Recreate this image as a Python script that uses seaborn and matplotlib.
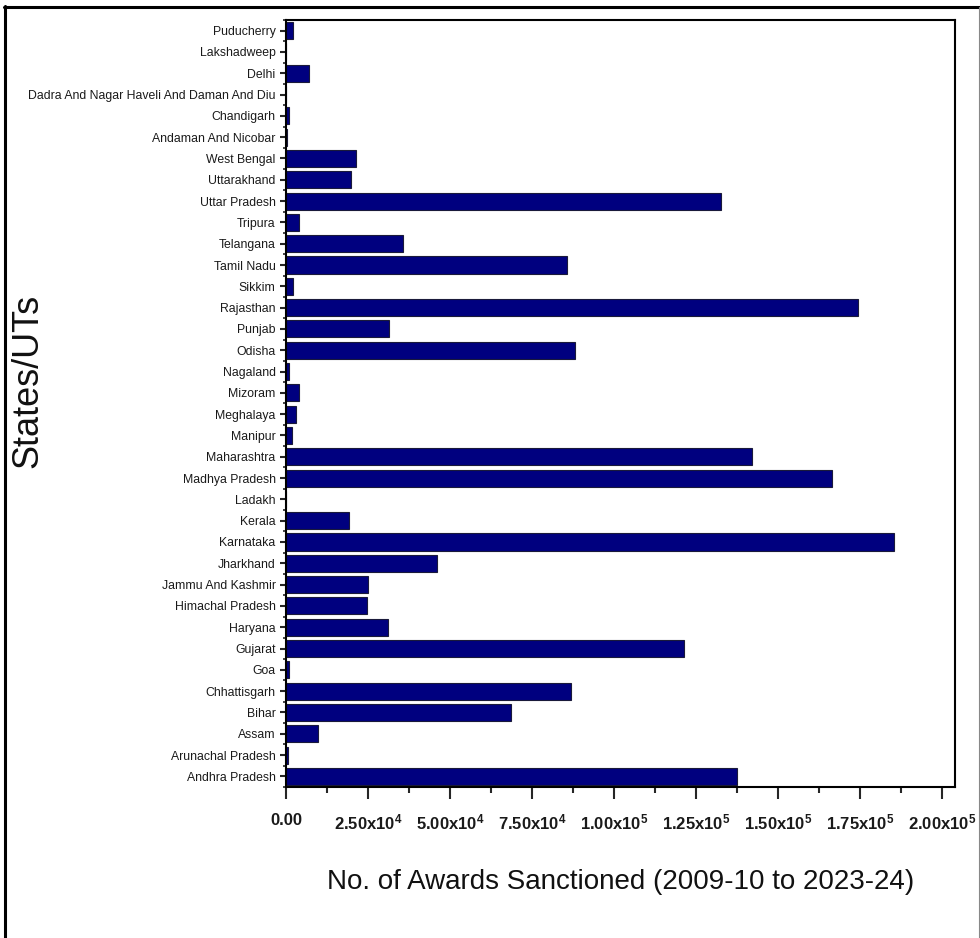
import numpy as np
import pandas as pd
import matplotlib
matplotlib.use("Agg")
import matplotlib.pyplot as plt
import seaborn as sns
from matplotlib.ticker import MultipleLocator, FixedLocator, FuncFormatter
from matplotlib.lines import Line2D
from matplotlib import font_manager

# ---- data (top to bottom as displayed) ----
states = [
    "Puducherry", "Lakshadweep", "Delhi", "Dadra And Nagar Haveli And Daman And Diu",
    "Chandigarh", "Andaman And Nicobar", "West Bengal", "Uttarakhand", "Uttar Pradesh",
    "Tripura", "Telangana", "Tamil Nadu", "Sikkim", "Rajasthan", "Punjab", "Odisha",
    "Nagaland", "Mizoram", "Meghalaya", "Manipur", "Maharashtra", "Madhya Pradesh",
    "Ladakh", "Kerala", "Karnataka", "Jharkhand", "Jammu And Kashmir",
    "Himachal Pradesh", "Haryana", "Gujarat", "Goa", "Chhattisgarh", "Bihar",
    "Assam", "Arunachal Pradesh", "Andhra Pradesh",
]
awards = [
    2100, 0, 7000, 150,
    900, 200, 21200, 19800, 132500,
    4100, 35800, 85600, 2100, 174300, 31400, 88200,
    1000, 4000, 2900, 1900, 142000, 166400,
    0, 19300, 185400, 45900, 25100,
    24700, 31200, 121400, 800, 86900, 68700,
    9800, 600, 137400,
]
x_label = "No. of Awards Sanctioned (2009-10 to 2023-24)"
y_label = "States/UTs"

df = pd.DataFrame({"State": states, "Awards": awards})

sns.set_style("ticks")

names = {f.name for f in font_manager.fontManager.ttflist}
narrow = "Liberation Sans Narrow" in names
base = "Liberation Sans"
nfam = ["Liberation Sans Narrow", "Liberation Sans", "DejaVu Sans"] if narrow else ["Liberation Sans", "DejaVu Sans"]
plt.rcParams["font.family"] = nfam
plt.rcParams["mathtext.fontset"] = "custom"
plt.rcParams["mathtext.rm"] = (nfam[0] + ":bold")
plt.rcParams["mathtext.default"] = "rm"

fig = plt.figure(figsize=(9.8, 9.38), dpi=100)
ax = fig.add_axes([286 / 980, 1 - 787 / 938, (955 - 286) / 980, (787 - 20) / 938])

sns.barplot(data=df, y="State", x="Awards", order=states, orient="h",
            color="#00007F", saturation=1, edgecolor="#1a1a3a", linewidth=0.8,
            width=0.8, ax=ax, errorbar=None)

ax.set_xlim(0, 2.04e5)
ax.set_ylim(35.5, -0.5)

ax.xaxis.set_major_locator(MultipleLocator(25000))
ax.xaxis.set_minor_locator(MultipleLocator(12500))
ax.yaxis.set_minor_locator(FixedLocator(np.arange(-0.5, 36, 1.0)))


def fmt(v, pos):
    if v < -1:
        return ""
    if abs(v) < 1:
        return "0.00"
    e = int(np.floor(np.log10(v)))
    m = v / 10 ** e
    return f"{m:.2f}x10$^{{{e}}}$"


ax.xaxis.set_major_formatter(FuncFormatter(fmt))

xt_size = 14 if narrow else 12
yt_size = 10.5 if narrow else 8.8
ax.tick_params(axis="x", which="major", length=8.5, width=1.5, direction="out",
               labelsize=xt_size, pad=10, labelcolor="#1a1a1a")
ax.tick_params(axis="x", which="minor", length=4.3, width=1.5, direction="out")
ax.tick_params(axis="y", which="major", length=4.5, width=1.5, direction="out",
               labelsize=yt_size, pad=3, labelcolor="#1a1a1a")
ax.tick_params(axis="y", which="minor", length=2.5, width=1.2, direction="out")
for lbl in ax.get_xticklabels():
    lbl.set_fontweight("bold")

for sp in ax.spines.values():
    sp.set_visible(True)
    sp.set_linewidth(1.5)
    sp.set_color("black")

ax.set_xlabel(x_label, fontsize=24 if narrow else 20, family=nfam, color="#111111")
ax.xaxis.set_label_coords(0.5, -0.124)
ax.xaxis.label.set_va("center")
ax.set_ylabel(y_label, fontsize=26, family=[base, "DejaVu Sans"], color="#111111")
ax.yaxis.set_label_coords(-0.386, 0.529)
ax.yaxis.label.set_va("center")

# figure frame
fig.add_artist(Line2D([5 / 980, 5 / 980], [0, 1 - 6 / 938], transform=fig.transFigure,
                      color="black", lw=2.2))
fig.add_artist(Line2D([4 / 980, 1], [1 - 7 / 938, 1 - 7 / 938], transform=fig.transFigure,
                      color="black", lw=2.2))
fig.add_artist(Line2D([979 / 980, 979 / 980], [0, 1 - 7 / 938], transform=fig.transFigure,
                      color="#888888", lw=0.8))

fig.savefig("out.png", dpi=100)
